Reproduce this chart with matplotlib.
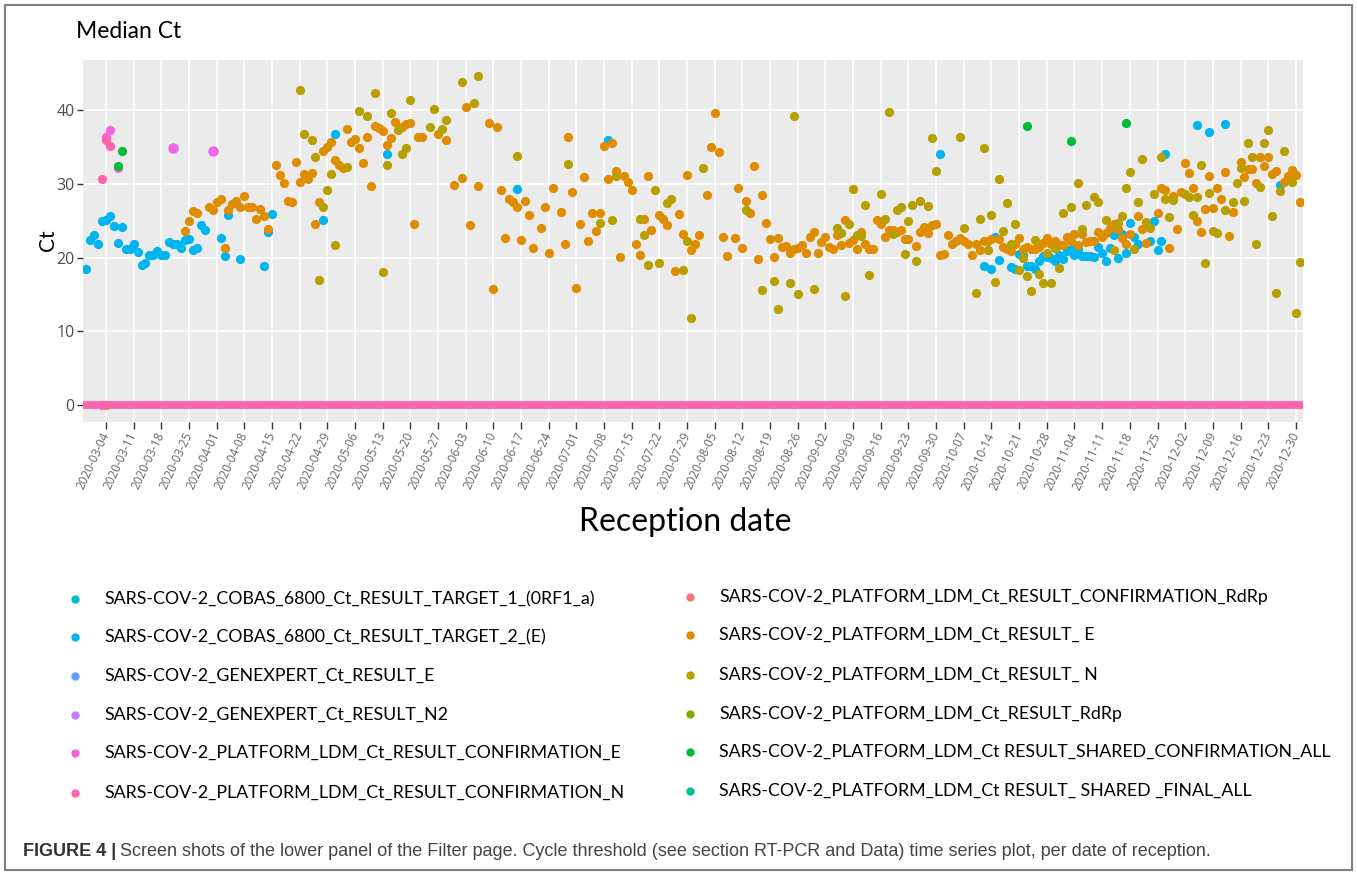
import numpy as np
import pandas as pd
import matplotlib
matplotlib.use("Agg")
import matplotlib.pyplot as plt
import matplotlib.dates as mdates
from matplotlib.patches import Rectangle
from matplotlib.lines import Line2D

W, H = 1357, 875
START = pd.Timestamp("2020-03-04")
END = pd.Timestamp("2020-12-30")

series_names = [
    "SARS-COV-2_COBAS_6800_Ct_RESULT_TARGET_1_(0RF1_a)",
    "SARS-COV-2_COBAS_6800_Ct_RESULT_TARGET_2_(E)",
    "SARS-COV-2_GENEXPERT_Ct_RESULT_E",
    "SARS-COV-2_GENEXPERT_Ct_RESULT_N2",
    "SARS-COV-2_PLATFORM_LDM_Ct_RESULT_CONFIRMATION_E",
    "SARS-COV-2_PLATFORM_LDM_Ct_RESULT_CONFIRMATION_N",
    "SARS-COV-2_PLATFORM_LDM_Ct_RESULT_CONFIRMATION_RdRp",
    "SARS-COV-2_PLATFORM_LDM_Ct_RESULT_ E",
    "SARS-COV-2_PLATFORM_LDM_Ct_RESULT_ N",
    "SARS-COV-2_PLATFORM_LDM_Ct_RESULT_RdRp",
    "SARS-COV-2_PLATFORM_LDM_Ct RESULT_SHARED_CONFIRMATION_ALL",
    "SARS-COV-2_PLATFORM_LDM_Ct RESULT_ SHARED _FINAL_ALL",
]
series_colors = ["#00BFC4", "#00B4F0", "#619CFF", "#C77CFF", "#F564E3", "#FF64B0",
                 "#F8766D", "#DE8C00", "#B79F00", "#7CAE00", "#00BA38", "#00C08B"]

# ---- data: (days after 2020-03-04, median Ct) ----
cobas_e = [(-5, 18.5), (-4, 22.4), (-3, 23.0), (-2, 21.9), (-1, 24.9), (0, 25.1), (1, 25.7), (2, 24.3),
           (3, 22.0), (4, 24.1), (5, 21.1), (6, 21.1), (7, 21.8), (8, 20.7), (9, 19.05), (10, 19.2),
           (11, 20.3), (12, 20.3), (13, 20.9), (14, 20.3), (15, 20.3), (16, 22.1), (17, 21.8), (18, 21.8),
           (19, 21.3), (20, 22.4), (21, 22.5), (22, 21.0), (23, 21.3), (24, 24.4), (25, 23.8), (29, 22.6),
           (30, 20.2), (31, 25.8), (34, 19.8), (40, 18.8), (41, 23.5), (42, 25.9), (55, 25.1), (58, 36.8),
           (71, 34.1), (104, 29.3), (127, 35.9), (211, 34.05), (222, 18.8), (224, 18.5), (225, 22.75),
           (226, 19.7), (229, 18.7), (230, 18.5), (231, 20.45), (232, 20.3), (233, 18.9), (234, 18.8),
           (235, 18.4), (236, 19.6), (237, 20.2), (238, 20.1), (239, 19.9), (240, 19.6), (241, 20.4),
           (242, 19.75), (243, 20.9), (244, 21.2), (245, 20.3), (246, 21.2), (247, 20.2), (248, 20.2),
           (249, 20.2), (250, 20.1), (251, 21.5), (252, 20.6), (253, 19.6), (254, 21.3), (255, 23.1),
           (256, 19.9), (257, 23.2), (258, 20.6), (259, 24.7), (260, 22.8), (261, 21.8), (264, 22.3),
           (265, 25.0), (266, 21.0), (267, 22.3), (268, 34.1), (276, 38.0), (279, 37.0), (283, 38.15),
           (297, 29.8)]
genexpert_n2 = [(17, 34.8), (27, 34.4)]
confirmation_e = [(-1, 0.0), (0, 36.3), (1, 37.25), (3, 32.1), (17, 34.8), (27, 34.4)]
confirmation_n = [(-1, 30.7), (0, 36.0), (1, 35.2)]
confirmation_n_negative_ct = 0.0
ldm_e = [(20, 23.6), (21, 24.9), (22, 26.3), (23, 26.0), (26, 26.9), (27, 26.4), (28, 27.5), (29, 27.9),
         (30, 21.3), (31, 26.4), (32, 27.3), (33, 27.7), (34, 26.8), (35, 28.4), (36, 26.8), (37, 26.8),
         (38, 25.2), (39, 26.6), (40, 25.7), (41, 23.9), (43, 32.5), (44, 31.2), (45, 30.1), (46, 27.7),
         (47, 27.6), (48, 32.9), (49, 30.2), (50, 31.4), (51, 30.7), (52, 31.5), (53, 24.6), (54, 27.5),
         (55, 34.4), (56, 35.0), (57, 35.7), (58, 33.3), (59, 32.6), (60, 32.2), (61, 37.4), (62, 35.7),
         (63, 36.1), (64, 34.8), (65, 32.8), (66, 36.4), (67, 29.7), (68, 37.8), (69, 37.6), (70, 37.2),
         (71, 35.3), (72, 36.2), (73, 38.4), (75, 37.7), (76, 38.1), (77, 38.2), (78, 24.5), (79, 36.3),
         (80, 36.3), (84, 36.7), (86, 35.9), (88, 29.8), (90, 30.8), (91, 40.45), (92, 24.4), (94, 29.7),
         (97, 38.3), (98, 15.8), (99, 37.7), (100, 29.1), (101, 22.7), (102, 27.9), (103, 27.5),
         (104, 26.8), (105, 22.4), (106, 27.7), (107, 25.8), (108, 21.35), (110, 24.05), (111, 26.8),
         (112, 20.6), (113, 29.4), (115, 26.2), (116, 21.9), (117, 36.4), (118, 28.9), (119, 15.9),
         (120, 24.5), (121, 30.9), (122, 22.2), (123, 26.0), (124, 23.6), (125, 26.0), (126, 35.1),
         (127, 30.7), (128, 35.5), (129, 31.8), (130, 20.1), (131, 31.0), (132, 30.2), (133, 29.2),
         (134, 21.9), (135, 20.4), (136, 25.2), (137, 31.0), (138, 23.7), (140, 25.8), (141, 25.2),
         (142, 24.4), (144, 18.2), (145, 25.9), (146, 23.2), (147, 31.2), (148, 21.0), (149, 21.9),
         (150, 23.0), (152, 28.5), (153, 35.0), (154, 39.55), (155, 34.3), (156, 22.8), (157, 20.2),
         (159, 22.6), (160, 29.4), (161, 21.3), (162, 27.7), (163, 26.0), (164, 32.4), (165, 19.8),
         (166, 28.5), (167, 24.7), (168, 22.5), (169, 20.1), (170, 22.6), (171, 21.5), (172, 21.6),
         (173, 20.6), (174, 21.2), (175, 21.3), (176, 21.7), (177, 20.6), (178, 22.8), (179, 23.5),
         (180, 20.6), (181, 22.1), (182, 22.8), (183, 21.4), (184, 21.1), (185, 23.0), (186, 21.7),
         (187, 25.1), (188, 22.0), (189, 22.4), (190, 21.1), (191, 23.5), (192, 21.9), (193, 21.1),
         (194, 21.2), (195, 25.1), (196, 24.5), (197, 22.75), (198, 23.8), (199, 23.8), (200, 23.5),
         (201, 23.8), (202, 22.5), (203, 22.5), (205, 21.6), (206, 23.5), (207, 24.2), (208, 23.4),
         (209, 24.4), (210, 24.5), (211, 20.3), (212, 20.5), (213, 23.1), (214, 21.9), (215, 22.3),
         (216, 22.6), (217, 22.2), (218, 21.9), (219, 20.3), (220, 21.9), (221, 21.0), (222, 22.3),
         (223, 22.2), (224, 22.5), (226, 22.5), (227, 21.4), (228, 21.2), (229, 20.9), (230, 21.8),
         (231, 22.7), (232, 21.1), (233, 21.4), (234, 21.1), (235, 21.2), (236, 21.4), (237, 22.0),
         (238, 22.6), (239, 21.85), (240, 22.3), (241, 21.7), (242, 21.7), (243, 22.8), (244, 22.3),
         (245, 23.2), (246, 21.7), (247, 23.2), (248, 22.1), (249, 22.2), (250, 22.25), (251, 23.5),
         (252, 22.75), (253, 23.3), (254, 24.05), (255, 24.55), (256, 23.9), (257, 22.6), (258, 21.9),
         (259, 23.2), (261, 25.7), (262, 23.9), (263, 22.0), (266, 26.1), (267, 29.4), (268, 29.1),
         (269, 21.3), (270, 28.3), (271, 23.9), (272, 28.9), (273, 32.8), (274, 31.5), (275, 29.5),
         (276, 25.0), (277, 23.5), (278, 26.65), (279, 31.0), (280, 26.7), (281, 29.5), (282, 28.0),
         (283, 31.6), (284, 22.9), (285, 26.2), (287, 32.9), (288, 30.9), (289, 32.0), (290, 32.0),
         (291, 30.05), (292, 33.7), (293, 32.4), (294, 33.7), (295, 31.4), (296, 31.7), (298, 30.2),
         (299, 31.1), (300, 31.85), (301, 31.2), (302, 27.6)]
ldm_n = [(0, 0.0), (49, 42.7), (50, 36.8), (52, 35.9), (53, 33.7), (54, 16.9), (55, 26.8), (56, 29.1),
         (57, 31.4), (58, 21.7), (61, 32.3), (64, 39.9), (66, 39.2), (68, 42.3), (70, 18.0), (71, 32.6),
         (72, 39.6), (74, 37.3), (75, 34.1), (76, 34.9), (77, 41.4), (82, 37.7), (83, 40.1), (85, 37.5),
         (86, 38.6), (90, 43.8), (93, 41.0), (94, 44.6), (104, 33.8), (117, 32.7), (125, 24.7),
         (128, 25.1), (129, 31.1), (135, 25.2), (136, 23.0), (137, 19.0), (139, 29.1), (140, 19.2),
         (142, 27.4), (143, 27.9), (146, 18.3), (147, 22.2), (148, 11.8), (151, 32.2), (162, 26.4),
         (166, 15.6), (169, 16.8), (170, 13.0), (173, 16.6), (174, 39.2), (175, 15.0), (179, 15.8),
         (185, 24.0), (186, 23.3), (187, 14.8), (188, 24.5), (189, 29.3), (190, 23.0), (191, 22.9),
         (192, 27.1), (193, 17.6), (196, 28.6), (197, 25.2), (198, 39.8), (199, 23.2), (200, 26.4),
         (201, 26.8), (202, 20.5), (203, 25.0), (204, 27.1), (205, 19.55), (206, 27.7), (208, 27.0),
         (209, 36.2), (210, 31.8), (216, 36.35), (217, 24.0), (220, 15.2), (221, 25.2), (222, 34.8),
         (223, 21.0), (224, 25.8), (225, 16.7), (226, 30.7), (227, 23.6), (228, 27.4), (229, 21.9),
         (230, 24.55), (231, 18.3), (232, 19.9), (233, 17.5), (234, 15.5), (235, 22.4), (236, 17.8),
         (237, 16.5), (238, 20.6), (239, 16.5), (240, 21.3), (241, 18.6), (242, 26.0), (244, 26.9),
         (246, 30.1), (247, 23.9), (248, 27.1), (250, 28.2), (251, 27.6), (253, 25.1), (255, 21.0),
         (256, 24.7), (257, 25.7), (258, 29.5), (259, 31.6), (260, 21.2), (261, 27.6), (262, 33.4),
         (263, 24.8), (264, 24.0), (265, 28.6), (267, 33.6), (268, 27.9), (269, 25.5), (270, 27.75),
         (273, 28.6), (274, 28.2), (275, 25.8), (276, 28.2), (277, 32.6), (278, 19.3), (279, 28.7),
         (280, 23.6), (281, 23.3), (283, 26.4), (285, 27.6), (286, 30.1), (287, 32.2), (288, 27.7),
         (289, 35.6), (290, 33.7), (291, 21.8), (292, 29.6), (293, 35.5), (294, 37.3), (295, 25.7),
         (296, 15.2), (297, 29.05), (298, 34.4), (300, 30.2), (301, 12.5), (302, 19.4)]
shared_confirmation = [(3, 32.4), (4, 34.4), (233, 37.9), (244, 35.8), (258, 38.3)]

y_ticks = [0, 10, 20, 30, 40]
x_tick_dates = pd.date_range(START, END, freq="7D")

title_text = "Median Ct"
x_title = "Reception date"
y_title = "Ct"
caption_bold = "FIGURE 4 |"
caption_rest = ("Screen shots of the lower panel of the Filter page. Cycle threshold (see section "
                "RT-PCR and Data) time series plot, per date of reception.")

# ---------------------------------------------------------------
def fx(px):
    return px / W

def fy(py):
    return 1 - py / H

def to_dates(pairs):
    d = np.array([p[0] for p in pairs])
    return START + pd.to_timedelta(d, unit="D"), np.array([p[1] for p in pairs])

fig = plt.figure(figsize=(W / 100, H / 100), dpi=100)
fig.patch.set_facecolor("white")
ax = fig.add_axes([fx(83), fy(422), fx(1303) - fx(83), fy(60) - fy(422)])
ax.set_facecolor("#EBEBEB")
for s in ax.spines.values():
    s.set_visible(False)

ax.set_xlim(START - pd.Timedelta(days=5.8), START + pd.Timedelta(days=302.8))
ax.set_ylim(-2.3, 46.8)
ax.set_yticks(y_ticks)
ax.set_xticks(x_tick_dates)
ax.set_xticklabels([d.strftime("%Y-%m-%d") for d in x_tick_dates])
ax.grid(True, color="white", linewidth=1.2, zorder=0)
ax.set_axisbelow(True)
ax.tick_params(axis="y", length=4, width=1, color="#333333", labelcolor="#4D4D4D",
               labelsize=11.5, pad=2)
ax.tick_params(axis="x", length=5, width=1, color="#333333", labelcolor="#666666",
               labelsize=8.5, pad=3)
for lab in ax.get_xticklabels():
    lab.set_rotation(65)
    lab.set_ha("right")
    lab.set_va("center")
    lab.set_rotation_mode("anchor")
    lab.set_fontfamily("Open Sans")
for lab in ax.get_yticklabels():
    lab.set_fontfamily("Open Sans")

MS = 44
d, v = to_dates(cobas_e)
ax.scatter(d, v, s=MS, color=series_colors[1], linewidths=0, zorder=3)
d, v = to_dates(genexpert_n2)
ax.scatter(d, v, s=MS * 1.3, color=series_colors[3], linewidths=0, zorder=3.1)
d, v = to_dates(confirmation_e)
ax.scatter(d, v, s=MS, color=series_colors[4], linewidths=0, zorder=3.2)
d, v = to_dates(confirmation_n)
ax.scatter(d, v, s=MS, color=series_colors[5], linewidths=0, zorder=3.3)
d, v = to_dates(ldm_e)
ax.scatter(d, v, s=MS, color=series_colors[7], linewidths=0, zorder=3.4)
d, v = to_dates(ldm_n)
ax.scatter(d, v, s=MS, color=series_colors[8], linewidths=0, zorder=3.5)
ax.axhline(confirmation_n_negative_ct, color=series_colors[5], linewidth=5.6, zorder=3.55)
d, v = to_dates(shared_confirmation)
ax.scatter(d, v, s=MS, color=series_colors[10], linewidths=0, zorder=3.6)

# titles
fig.text(fx(76), fy(32), title_text, fontsize=16.5, family="Lato", ha="left", va="center",
         color="black")
fig.text(fx(685), fy(522), x_title, fontsize=23, family="Lato", ha="center", va="center",
         color="black")
fig.text(fx(48), fy(240), y_title, fontsize=15, family="Lato", ha="center", va="center",
         rotation=90, color="black")

# legend
left_rows = [599, 637, 676, 715, 753, 793]
right_rows = [597, 635, 675, 714, 752, 791]
for i, (name, c) in enumerate(zip(series_names, series_colors)):
    if i < 6:
        mx, tx, yy = 75, 104, left_rows[i]
    else:
        mx, tx, yy = 690, 719, right_rows[i - 6]
    fig.add_artist(Line2D([fx(mx)], [fy(yy)], marker="o", markersize=5, color=c,
                          linestyle="none", transform=fig.transFigure))
    fig.text(fx(tx), fy(yy), name, fontsize=12.8, family="Lato", ha="left", va="center",
             color="black")

# caption
t1 = fig.text(fx(23), fy(851), caption_bold, fontsize=13, family="Liberation Sans",
              weight="bold", ha="left", va="center", color="#333333")
fig.canvas.draw()
r = fig.canvas.get_renderer()
bb = t1.get_window_extent(r)
fig.text((bb.x1 + 4) / W, fy(851), caption_rest, fontsize=13, family="Liberation Sans",
         ha="left", va="center", color="#444444")

# outer frame
fig.add_artist(Rectangle((fx(5), fy(870)), fx(1352) - fx(5), fy(5) - fy(870),
                         transform=fig.transFigure, fill=False, edgecolor="#808080",
                         linewidth=1.5))

fig.savefig("out.png", dpi=100)
